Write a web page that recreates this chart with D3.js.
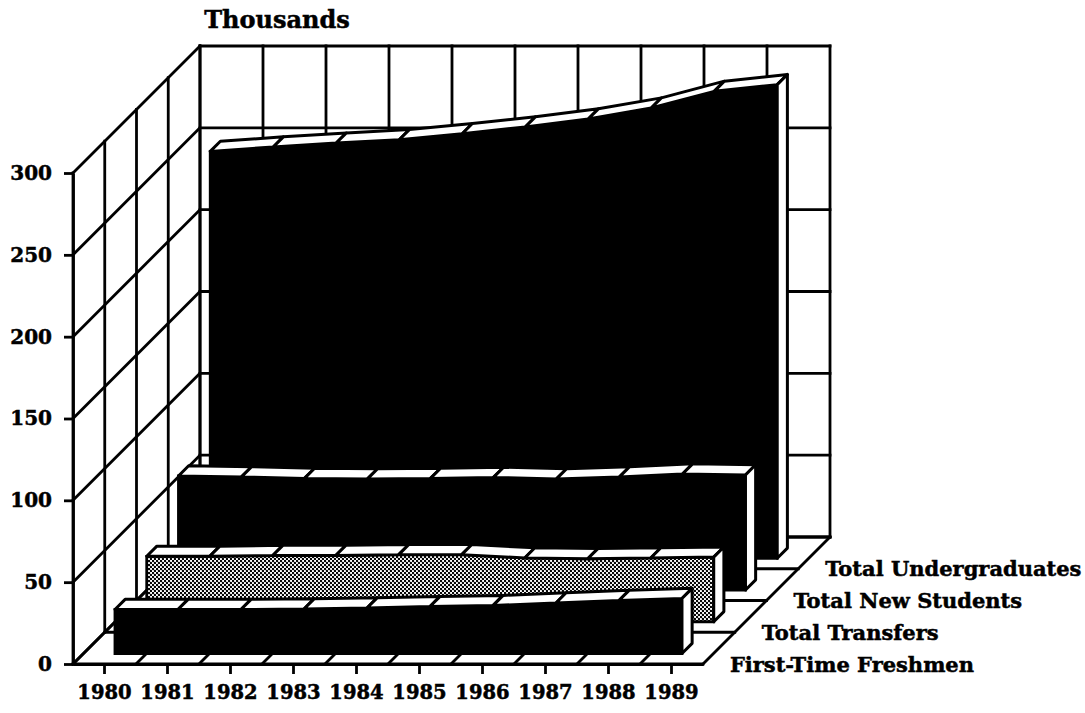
<!DOCTYPE html>
<html>
<head>
<meta charset="utf-8">
<script src="https://cdn.jsdelivr.net/npm/d3@7"></script>
<style>
body { margin: 0; background: #fff; }
text { font-family: "DejaVu Serif", serif; font-weight: bold; fill: #000; stroke: #000; stroke-width: 0.5px; }
</style>
</head>
<body>
<svg></svg>
<script>
// Data (thousands)
const years = [1980, 1981, 1982, 1983, 1984, 1985, 1986, 1987, 1988, 1989]
const seriesNames = ["First-Time Freshmen", "Total Transfers", "Total New Students", "Total Undergraduates"]
const freshmen = [26.9, 26.9, 26.9, 27.2, 27.8, 28.7, 29.3, 30.9, 32.4, 33.6]
const transfers = [40.0, 40.0, 40.5, 40.5, 41.0, 41.0, 39.0, 38.5, 39.0, 39.5]
const newStudents = [69.7, 69.1, 68.2, 67.9, 68.2, 68.8, 67.9, 69.1, 70.9, 70.3]
const undergrads = [248.6, 251.3, 253.7, 255.7, 259.4, 263.5, 268.4, 275.1, 285.3, 289.4]
const yTicks = [0, 50, 100, 150, 200, 250, 300]

const width = 1085
const height = 713

const svg = d3.select("svg")
    .attr("width", width)
    .attr("height", height)

const floorLeft = 73
const floorRight = 703
const baseY = 664
const topY = 173
const lw = 2.8

const x = d3.scaleBand().domain(years).range([floorLeft, floorRight])
const xc = d => x(d) + x.bandwidth() / 2
const y = d3.scaleLinear().domain([0, 300]).range([baseY, topY])
const depth = d3.scaleLinear().domain([0, 4]).range([0, 127]) // oblique depth, 45 deg

// project a point (screen x at front plane, value, depth slot)
const proj = (px, v, slot) => [px + depth(slot), y(v) - depth(slot)]

// halftone pattern for transfers
const pat = svg.append("defs").append("pattern")
    .attr("id", "dots")
    .attr("patternUnits", "userSpaceOnUse")
    .attr("width", 4).attr("height", 4)
pat.append("rect").attr("width", 4).attr("height", 4).attr("fill", "#fff")
pat.append("circle").attr("cx", 1).attr("cy", 1).attr("r", 1.2).attr("fill", "#000")
pat.append("circle").attr("cx", 3).attr("cy", 3).attr("r", 1.2).attr("fill", "#000")

const line = (g, a, b) => g.append("line")
    .attr("x1", a[0]).attr("y1", a[1])
    .attr("x2", b[0]).attr("y2", b[1])
    .attr("stroke", "#000")
    .attr("stroke-width", lw)
    .attr("stroke-linecap", "square")

const grid = svg.append("g")

// back wall
yTicks.forEach(v => line(grid, proj(floorLeft, v, 4), proj(floorRight, v, 4)))
d3.range(years.length + 1).forEach(j => {
    const bx = floorLeft + j * x.bandwidth()
    line(grid, proj(bx, 0, 4), proj(bx, 300, 4))
})

// left wall
yTicks.forEach(v => line(grid, proj(floorLeft, v, 0), proj(floorLeft, v, 4)))
d3.range(0, 5).forEach(i => line(grid, proj(floorLeft, 0, i), proj(floorLeft, 300, i)))

// floor
d3.range(0, 5).forEach(i => line(grid, proj(floorLeft, 0, i), proj(floorRight, 0, i)))
d3.range(years.length + 1).forEach(j => {
    const bx = floorLeft + j * x.bandwidth()
    line(grid, proj(bx, 0, 0), proj(bx, 0, 4))
})

// ribbons, back to front
const series = [freshmen, transfers, newStudents, undergrads]
const fills = ["#000", "url(#dots)", "#000", "#000"]
const path = pts => "M" + pts.map(p => p.join(",")).join("L") + "Z"

for (let s = series.length - 1; s >= 0; s--) {
    const data = series[s]
    const f = s + 0.33
    const b = s + 0.65
    const g = svg.append("g")

    const tops = years.map((yr, j) => proj(xc(yr), data[j], f))
    const bases = years.map(yr => proj(xc(yr), 0, f)).reverse()

    g.append("path")
        .attr("d", path(tops.concat(bases)))
        .attr("fill", fills[s])
        .attr("stroke", "#000")
        .attr("stroke-width", lw)

    // top face segments
    for (let j = 0; j < years.length - 1; j++) {
        const quad = [
            proj(xc(years[j]), data[j], f),
            proj(xc(years[j + 1]), data[j + 1], f),
            proj(xc(years[j + 1]), data[j + 1], b),
            proj(xc(years[j]), data[j], b)
        ]
        g.append("path")
            .attr("d", path(quad))
            .attr("fill", "#fff")
            .attr("stroke", "#000")
            .attr("stroke-width", 3)
            .attr("stroke-linejoin", "round")
    }

    // right end cap
    const last = years.length - 1
    const xl = xc(years[last])
    g.append("path")
        .attr("d", path([proj(xl, data[last], f), proj(xl, data[last], b), proj(xl, 0, b), proj(xl, 0, f)]))
        .attr("fill", "#fff")
        .attr("stroke", "#000")
        .attr("stroke-width", 3)
        .attr("stroke-linejoin", "round")
}

// axes
const yAxis = d3.axisLeft(y)
    .tickValues(yTicks)
    .tickSize(9)
    .tickPadding(12)
    .tickSizeOuter(0)

const yAxisG = svg.append("g")
    .attr("transform", `translate(${floorLeft}, 0)`)
    .call(yAxis)

const xAxis = d3.axisBottom(x)
    .tickSize(10)
    .tickPadding(11)
    .tickSizeOuter(0)

const xAxisG = svg.append("g")
    .attr("transform", `translate(0, ${baseY})`)
    .call(xAxis)

svg.selectAll(".tick line, .domain")
    .attr("stroke", "#000")
    .attr("stroke-width", lw)
svg.selectAll(".tick text")
    .attr("font-family", "DejaVu Serif")
    .attr("font-weight", "bold")
yAxisG.selectAll(".tick text").attr("font-size", "20px")
xAxisG.selectAll(".tick text").attr("font-size", "19.5px")

// series labels along the floor's right edge
seriesNames.forEach((name, s) => {
    const p = proj(floorRight, 0, s + 0.5)
    svg.append("text")
        .attr("x", p[0] + 11)
        .attr("y", p[1] + 18)
        .attr("dominant-baseline", "middle")
        .attr("font-size", "21px")
        .text(name)
})

// unit title
svg.append("text")
    .text("Thousands")
    .attr("x", 277)
    .attr("y", 21)
    .attr("text-anchor", "middle")
    .attr("dominant-baseline", "middle")
    .attr("font-size", "24px")
</script>
</body>
</html>
